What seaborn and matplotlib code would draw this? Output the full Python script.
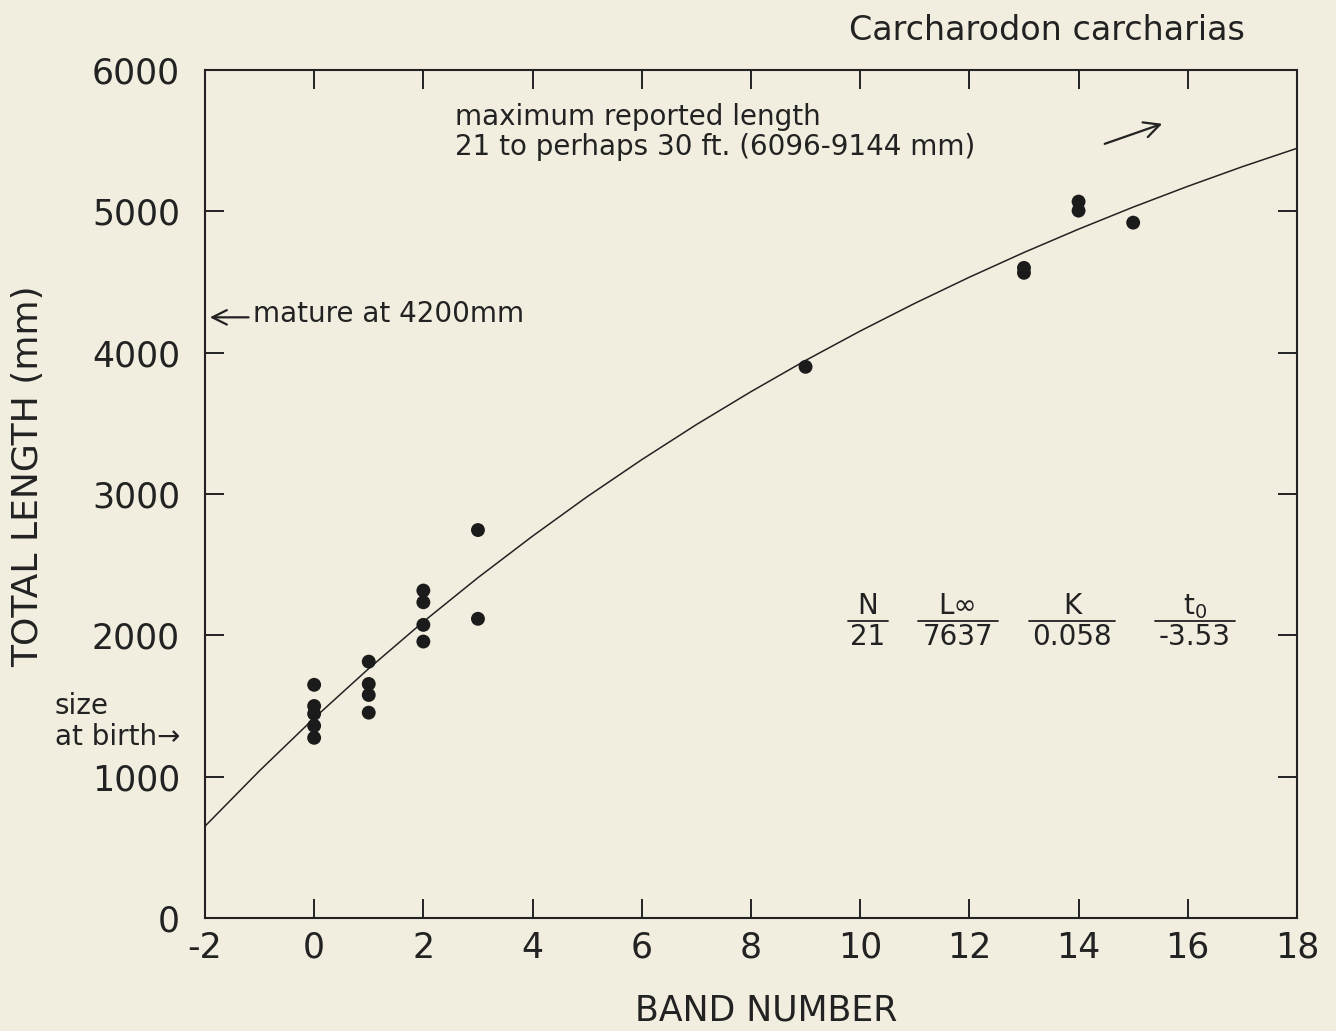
import matplotlib
matplotlib.use("Agg")
import matplotlib.pyplot as plt
import seaborn as sns
import pandas as pd

# ---- data ----
band_number = [0, 0, 0, 0, 0,
               1, 1, 1, 1,
               2, 2, 2, 2,
               3, 3,
               9,
               13, 13,
               14, 14,
               15]
total_length = [1650, 1500, 1445, 1360, 1275,
                1814, 1656, 1578, 1453,
                2317, 2234, 2074, 1956,
                2745, 2117,
                3900,
                4600, 4565,
                5069, 5005,
                4920]

# fitted growth curve
curve_band = [-2, -1, 0, 1, 2, 3, 4, 5, 6, 7, 8, 9, 10,
              11, 12, 13, 14, 15, 16, 17, 18]
curve_length = [649, 1042, 1414, 1765, 2096, 2408, 2702, 2981, 3243, 3491,
                3724, 3945, 4153, 4349, 4534, 4709, 4874, 5030, 5177, 5316, 5446]

x_ticks = [-2, 0, 2, 4, 6, 8, 10, 12, 14, 16, 18]
y_ticks = [0, 1000, 2000, 3000, 4000, 5000, 6000]

stat_headers = ["N", "L∞", "K", "t$_0$"]
stat_values = ["21", "7637", "0.058", "-3.53"]

# ---- style ----
BG = "#F2EEDF"
INK = "#222222"
sns.set_theme(style="ticks")
plt.rcParams["font.family"] = ["DejaVu Sans"]
plt.rcParams["text.color"] = INK
plt.rcParams["axes.labelcolor"] = INK
plt.rcParams["xtick.color"] = INK
plt.rcParams["ytick.color"] = INK

fig = plt.figure(figsize=(13.36, 10.31), dpi=100, facecolor=BG)
ax = fig.add_axes([0.1534, 0.1096, 0.8174, 0.8225])
ax.set_facecolor(BG)

df = pd.DataFrame({"band": band_number, "length": total_length})
cdf = pd.DataFrame({"band": curve_band, "length": curve_length})

sns.lineplot(data=cdf, x="band", y="length", color=INK, linewidth=1.1, ax=ax,
             sort=False)
sns.scatterplot(data=df, x="band", y="length", color="#1b1b1b", s=100,
                edgecolor="none", ax=ax, zorder=3)

ax.set_xlim(-2, 18)
ax.set_ylim(0, 6000)
ax.set_xticks(x_ticks)
ax.set_yticks(y_ticks)
ax.set_xticklabels([str(v) for v in x_ticks])
ax.set_yticklabels([str(v) for v in y_ticks])

for s in ax.spines.values():
    s.set_visible(True)
    s.set_linewidth(1.5)
    s.set_color(INK)

ax.tick_params(axis="both", which="both", direction="in", top=True, right=True,
               length=14, width=1.4, labelsize=25)
ax.tick_params(axis="x", pad=9)
ax.tick_params(axis="y", pad=18)

ax.set_xlabel("BAND NUMBER", fontsize=25, va="baseline")
ax.set_ylabel("TOTAL LENGTH (mm)", fontsize=26)
ax.xaxis.set_label_coords(0.514, -0.121)
ax.yaxis.set_label_coords(-0.146, 0.521)

# title
fig.text(0.932, 0.961, "Carcharodon carcharias", ha="right", va="baseline",
         fontsize=24)

# maximum reported length annotation
ax.text(2.58, 5612, "maximum reported length", fontsize=20, ha="left",
        va="baseline")
ax.text(2.58, 5400, "21 to perhaps 30 ft. (6096-9144 mm)", fontsize=20,
        ha="left", va="baseline")
ax.annotate("", xy=(15.58, 5626), xytext=(14.43, 5471),
            arrowprops=dict(arrowstyle="->", color=INK, lw=1.6,
                            mutation_scale=28))

# mature at 4200mm
ax.annotate("", xy=(-1.96, 4250), xytext=(-1.15, 4250),
            arrowprops=dict(arrowstyle="->", color=INK, lw=1.6,
                            mutation_scale=26))
ax.text(-1.12, 4275, "mature at 4200mm", fontsize=20, ha="left", va="center")

# size at birth
ax.text(-4.75, 1390, "size\nat birth→", fontsize=20, ha="left", va="center",
        linespacing=1.1, clip_on=False)

# parameter table
col_x = [10.14, 11.79, 13.88, 16.13]
col_half = [0.37, 0.73, 0.78, 0.73]
for cx, hw, h, v in zip(col_x, col_half, stat_headers, stat_values):
    ax.text(cx, 2205, h, fontsize=20, ha="center", va="center")
    ax.text(cx, 1985, v, fontsize=20, ha="center", va="center")
    ax.plot([cx - hw, cx + hw], [2102, 2102], color=INK, lw=1.3)

fig.savefig("out.png", dpi=100, facecolor=BG)
